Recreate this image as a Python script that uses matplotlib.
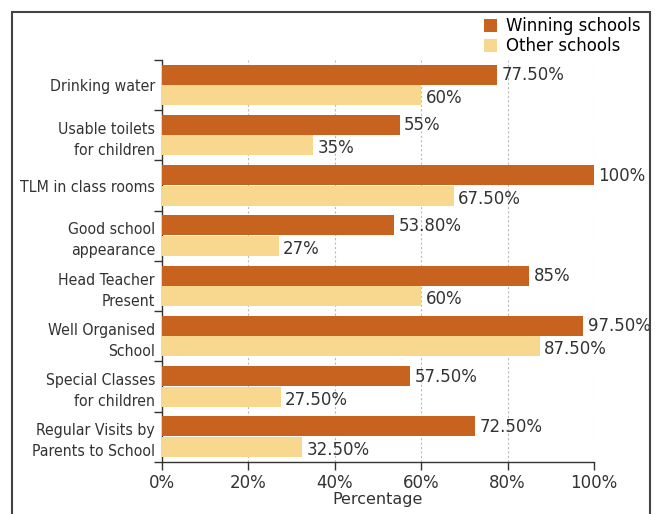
import matplotlib
matplotlib.use("Agg")
import matplotlib.pyplot as plt
import numpy as np
from matplotlib.patches import Rectangle, Patch
from matplotlib.ticker import FixedLocator

# ── Data ──────────────────────────────────────────────────────────────────────
categories = [
    "Drinking water",
    "Usable toilets\nfor children",
    "TLM in class rooms",
    "Good school\nappearance",
    "Head Teacher\nPresent",
    "Well Organised\nSchool",
    "Special Classes\nfor children",
    "Regular Visits by\nParents to School",
]
winning = [77.5, 55, 100, 53.8, 85, 97.5, 57.5, 72.5]
other = [60, 35, 67.5, 27, 60, 87.5, 27.5, 32.5]
winning_labels = ["77.50%", "55%", "100%", "53.80%", "85%", "97.50%", "57.50%", "72.50%"]
other_labels = ["60%", "35%", "67.50%", "27%", "60%", "87.50%", "27.50%", "32.50%"]
xticks = [0, 20, 40, 60, 80, 100]

WIN_COLOR = "#C8621F"
OTHER_COLOR = "#F8D88E"

fig = plt.figure(figsize=(6.6, 5.14), dpi=100)
ax = fig.add_axes([0.2455, 0.1012, 0.6545, 0.7821])

y = np.arange(len(categories))
h = 0.4
ax.barh(y - 0.21, winning, height=h, color=WIN_COLOR, zorder=3)
ax.barh(y + 0.2, other, height=h, color=OTHER_COLOR, zorder=3)

for yi, v, lab in zip(y, winning, winning_labels):
    ax.text(v + 1, yi - 0.2, lab, va="center", ha="left", fontsize=12, color="#333333")
for yi, v, lab in zip(y, other, other_labels):
    ax.text(v + 1, yi + 0.26, lab, va="center", ha="left", fontsize=12, color="#333333")

ax.set_xlim(0, 100)
ax.set_ylim(len(categories) - 0.5, -0.5)

ax.set_yticks(y)
ax.set_yticklabels(categories, fontsize=11.3, color="#333333", linespacing=1.5,
                   family=["Liberation Sans Narrow", "DejaVu Sans"], fontstretch="condensed")
ax.yaxis.set_minor_locator(FixedLocator(np.arange(-0.5, len(categories), 1.0)))
ax.tick_params(axis="y", which="major", length=0, pad=5)
ax.tick_params(axis="y", which="minor", length=6, width=1, color="#333333")

ax.set_xticks(xticks)
ax.set_xticklabels([f"{t}%" for t in xticks], fontsize=12, color="#333333")
ax.tick_params(axis="x", length=6, width=1, color="#333333", pad=3)
ax.set_xlabel("Percentage", fontsize=11.5, color="#333333", labelpad=0)

ax.grid(axis="x", linestyle=(0, (2, 2)), color="#bbbbbb", linewidth=0.8, zorder=0)
for s in ("top", "right"):
    ax.spines[s].set_visible(False)
for s in ("left", "bottom"):
    ax.spines[s].set_color("#333333")
    ax.spines[s].set_linewidth(1)

# Legend
handles = [Patch(facecolor=WIN_COLOR, label="Winning schools"),
           Patch(facecolor=OTHER_COLOR, label="Other schools")]
fig.legend(handles=handles, loc="upper right", bbox_to_anchor=(0.98, 0.98),
           frameon=False, fontsize=12, handlelength=0.8, handleheight=0.8,
           handletextpad=0.5, labelspacing=0.15, borderaxespad=0)

# Outer frame
fig.patches.append(Rectangle((12 / 660, -0.1), (650 - 12) / 660, 1.1 - 12 / 514,
                             transform=fig.transFigure, fill=False,
                             edgecolor="#444444", linewidth=1.5))

fig.savefig("out.png", dpi=100)
